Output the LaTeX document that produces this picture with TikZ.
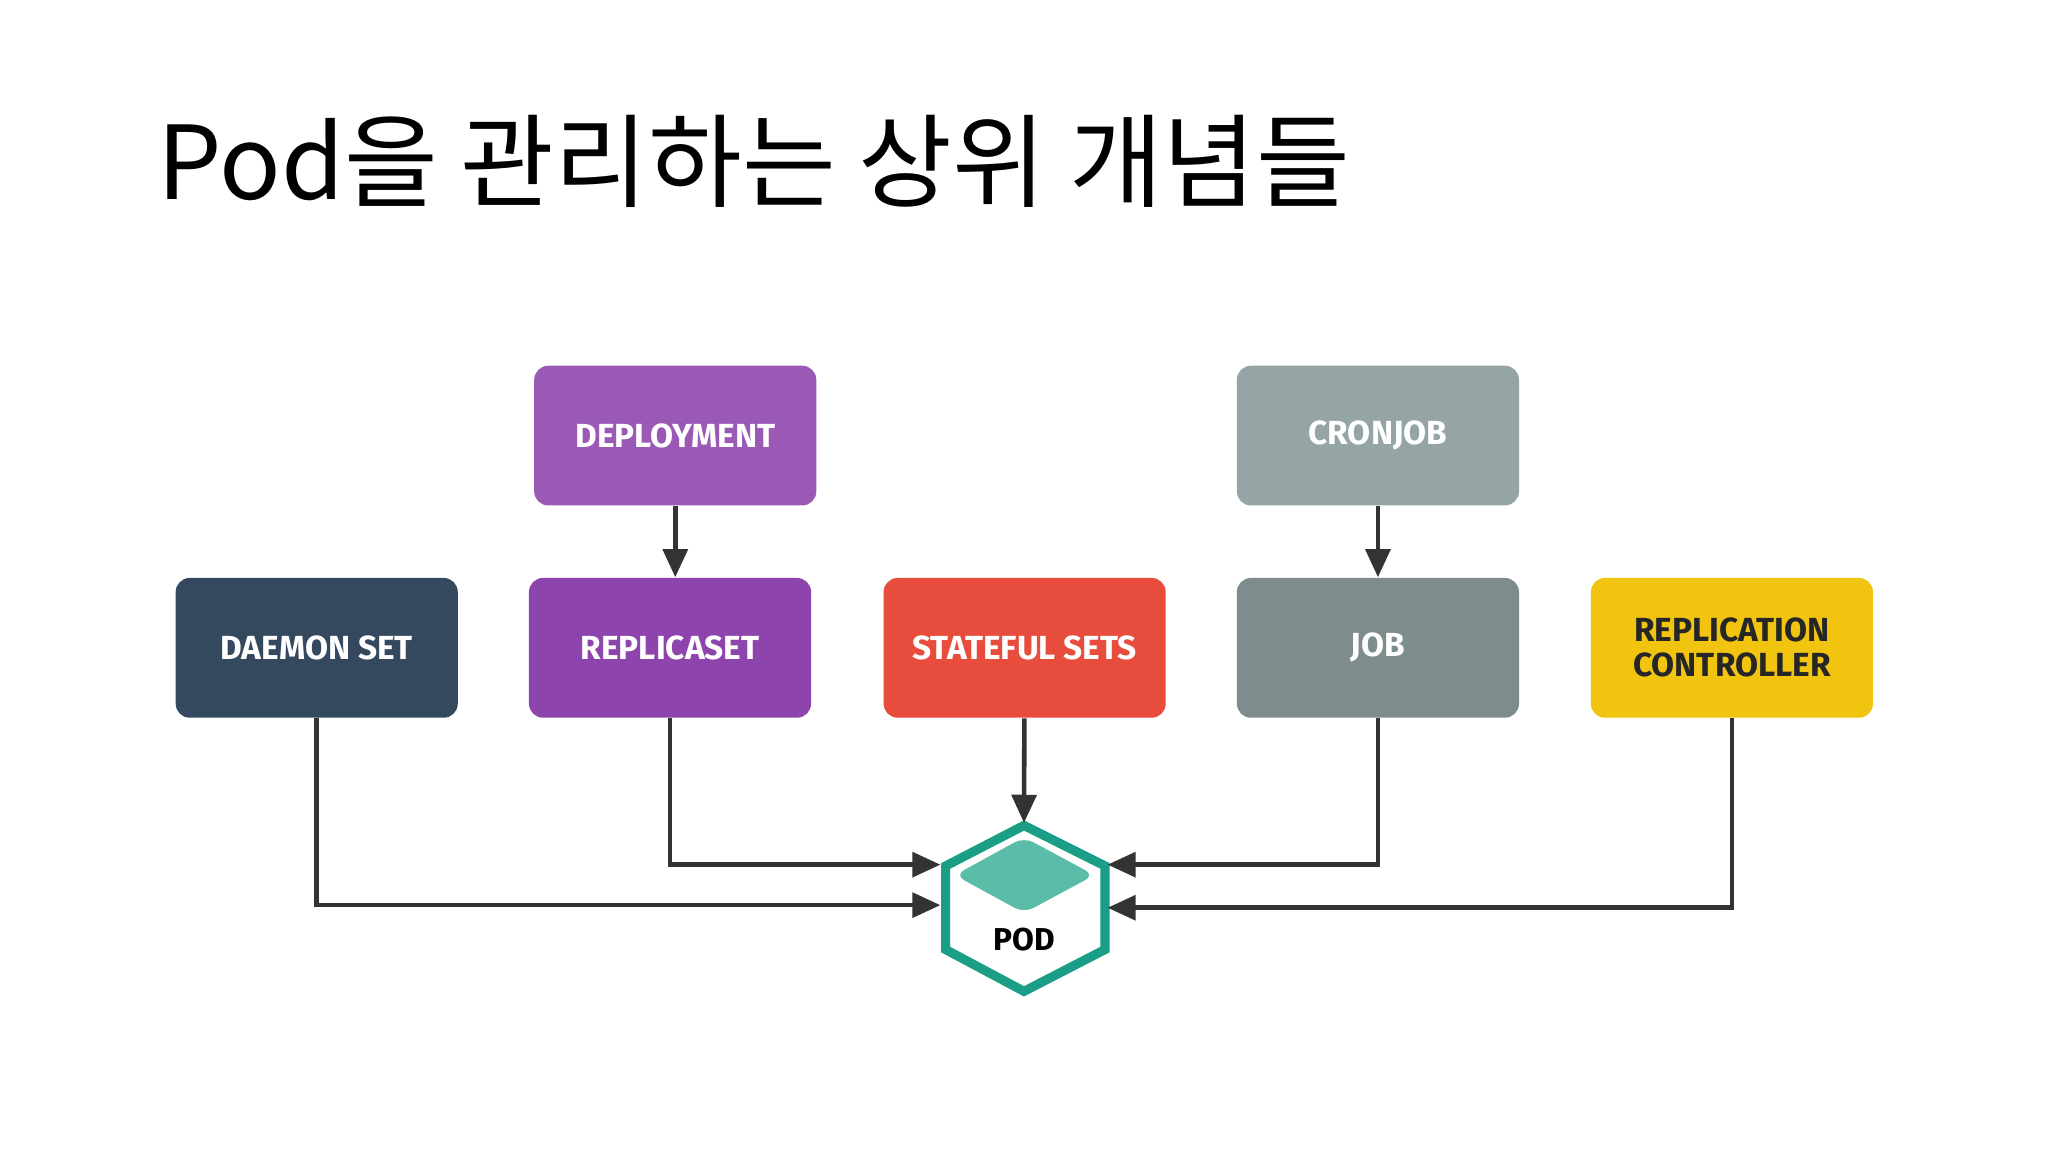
\documentclass[tikz,border=0pt]{standalone}
\usepackage{fontspec}
\setmainfont{Fira Sans}
\newfontfamily\kr{Noto Sans CJK KR}
\usetikzlibrary{arrows.meta}
\definecolor{cdaemon}{HTML}{34495E}
\definecolor{cdeploy}{HTML}{9B59B6}
\definecolor{crs}{HTML}{8E44AD}
\definecolor{cstate}{HTML}{E74C3C}
\definecolor{ccron}{HTML}{95A5A6}
\definecolor{cjob}{HTML}{7F8C8D}
\definecolor{crc}{HTML}{F1C40F}
\definecolor{cpod}{HTML}{1A9E85}
\definecolor{cpodin}{HTML}{5BBDA8}
\definecolor{carr}{HTML}{333333}
\begin{document}
\begin{tikzpicture}[x=0.013061cm,y=-0.013061cm,
 box/.style={rounded corners=4pt,minimum width=216*0.013061cm,minimum height=107*0.013061cm,
   text=white,font=\bfseries\fontsize{9.5}{10}\selectfont,align=center,inner sep=0pt},
 arr/.style={draw=carr,line width=1.3pt,-{Triangle[length=8pt,width=7pt]}}]
\useasboundingbox (0,0) rectangle (1568,882);
\fill[white] (0,0) rectangle (1568,882);
\node[anchor=base west,inner sep=0pt,font=\kr\fontsize{29}{30}\selectfont] (title) at (120,153) {Pod을 관리하는 상위 개념들};
\node[box,fill=cdeploy] (dep) at (517,333.5) {DEPLOYMENT};
\node[box,fill=ccron] (cron) at (1055,333.5) {CRONJOB};
\node[box,fill=cdaemon] (dae) at (242.5,496) {DAEMON SET};
\node[box,fill=crs] (rs) at (513,496) {REPLICASET};
\node[box,fill=cstate] (st) at (784.5,496) {STATEFUL SETS};
\node[box,fill=cjob] (job) at (1055,496) {JOB};
\node[box,fill=crc,text=black!85] (rc) at (1326,496) {REPLICATION\\CONTROLLER};
% pod
\draw[cpod,line width=2.6pt,fill=white] (784,632) -- (846,663) -- (846,727) -- (784,759) -- (724,727) -- (724,663) -- cycle;
\fill[cpodin,rounded corners=3pt] (784,641) -- (838,670) -- (784,699) -- (731,670) -- cycle;
\node[font=\bfseries\fontsize{9}{10}\selectfont] (pod) at (784,719) {POD};
\coordinate (pl1) at (720,662); \coordinate (pl2) at (720,693);
\coordinate (pr1) at (848,662); \coordinate (pr2) at (848,695);
\coordinate (pt) at (784,630);
\draw[arr] (dep) -- (rs.north -| dep);
\draw[arr] (cron) -- (job);
\draw[arr] (st) -- (pt);
\draw[arr] (dae) |- (pl2);
\draw[arr] (rs) |- (pl1);
\draw[arr] (job) |- (pr1);
\draw[arr] (rc) |- (pr2);
\end{tikzpicture}
\end{document}
